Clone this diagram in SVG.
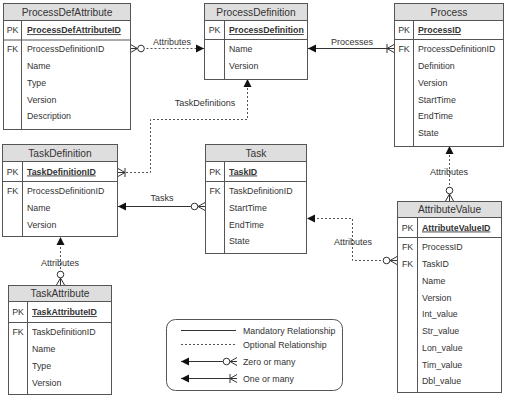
<svg xmlns="http://www.w3.org/2000/svg" width="506" height="408" viewBox="0 0 506 408">
<style>
.box{fill:#fff;stroke:#555;stroke-width:1}
.hdr{fill:#dedede;stroke:#555;stroke-width:1}
.ln{stroke:#555;stroke-width:1;fill:none}
text{font-family:"Liberation Sans",Arial,Helvetica,sans-serif;font-size:8.8px;fill:#333}
.h{font-size:10.2px;text-anchor:middle}
.pk{font-weight:bold;text-decoration:underline}
.k{text-anchor:middle}
.lbl{text-anchor:middle;font-size:9px}
.c{stroke:#333;stroke-width:1;fill:none}
.d{stroke:#555;stroke-width:1;fill:none;stroke-dasharray:2,2}
</style>
<defs>
<marker id="arrow" markerUnits="userSpaceOnUse" markerWidth="12" markerHeight="12" viewBox="-10 -6 12 12" refX="0" refY="0" orient="auto">
<path d="M-8,-4 L0,0 L-8,4 Z" fill="#111"/>
</marker>
<marker id="zm" markerUnits="userSpaceOnUse" markerWidth="20" markerHeight="12" viewBox="-16 -6 20 12" refX="0" refY="0" orient="auto-start-reverse">
<path d="M-7,0 L0,-4 M-7,0 L0,0 M-7,0 L0,4" stroke="#333" stroke-width="1" fill="none"/>
<circle cx="-10.5" cy="0" r="3.3" fill="#fff" stroke="#333" stroke-width="1"/>
</marker>
<marker id="om" markerUnits="userSpaceOnUse" markerWidth="20" markerHeight="12" viewBox="-16 -6 20 12" refX="0" refY="0" orient="auto-start-reverse">
<path d="M-7,0 L0,-4 M-7,0 L0,0 M-7,0 L0,4 M-7,-4.5 L-7,4.5" stroke="#333" stroke-width="1" fill="none"/>
</marker>
</defs>

<g id="connectors">
<path class="d" d="M130.5,48.5 H204" marker-start="url(#zm)" marker-end="url(#arrow)"/>
<text class="lbl" x="172" y="44.5">Attributes</text>
<path class="c" d="M394,48.5 H308" marker-start="url(#om)" marker-end="url(#arrow)"/>
<text class="lbl" x="352" y="44.5">Processes</text>
<path class="d" d="M118,172.5 H150.5 V119.5 H247.5 V79" marker-start="url(#om)" marker-end="url(#arrow)"/>
<text class="lbl" x="205" y="106">TaskDefinitions</text>
<path class="c" d="M205,206.5 H118" marker-start="url(#zm)" marker-end="url(#arrow)"/>
<text class="lbl" x="162" y="200.5">Tasks</text>
<path class="d" d="M449.5,201 V146" marker-start="url(#zm)" marker-end="url(#arrow)"/>
<text class="lbl" x="449" y="175">Attributes</text>
<path class="d" d="M397,260.5 H352.5 V218.5 H307" marker-start="url(#zm)" marker-end="url(#arrow)"/>
<text class="lbl" x="353" y="245">Attributes</text>
<path class="d" d="M60.5,285 V237" marker-start="url(#zm)" marker-end="url(#arrow)"/>
<text class="lbl" x="60" y="266">Attributes</text>
</g>

<g id="ProcessDefAttribute">
<rect class="box" x="3.5" y="3.5" width="127" height="126"/>
<rect class="hdr" x="3.5" y="3.5" width="127" height="17"/>
<path class="ln" d="M3.5,40 H130.5 M21.5,20.5 V129.5"/>
<text class="h" x="67" y="16">ProcessDefAttribute</text>
<text class="k" x="12.5" y="33.2">PK</text>
<text class="pk" x="27" y="33.2">ProcessDefAttributeID</text>
<text class="k" x="12.5" y="52.2">FK</text>
<text x="27" y="52.2">ProcessDefinitionID</text>
<text x="27" y="69">Name</text>
<text x="27" y="85.8">Type</text>
<text x="27" y="102.6">Version</text>
<text x="27" y="119.4">Description</text>
</g>

<g id="ProcessDefinition">
<rect class="box" x="204.5" y="3.5" width="103" height="76"/>
<rect class="hdr" x="204.5" y="3.5" width="103" height="17"/>
<path class="ln" d="M204.5,39.5 H307.5 M224.5,20.5 V79.5"/>
<text class="h" x="256" y="16">ProcessDefinition</text>
<text class="k" x="214.5" y="33">PK</text>
<text class="pk" x="229" y="33">ProcessDefinition</text>
<text x="229" y="52.2">Name</text>
<text x="229" y="69">Version</text>
</g>

<g id="Process">
<rect class="box" x="394.5" y="3.5" width="109" height="143"/>
<rect class="hdr" x="394.5" y="3.5" width="109" height="17"/>
<path class="ln" d="M394.5,39.5 H503.5 M413.5,20.5 V146.5"/>
<text class="h" x="449" y="16">Process</text>
<text class="k" x="404" y="33">PK</text>
<text class="pk" x="418" y="33">ProcessID</text>
<text class="k" x="404" y="52.2">FK</text>
<text x="418" y="52.2">ProcessDefinitionID</text>
<text x="418" y="69">Definition</text>
<text x="418" y="85.8">Version</text>
<text x="418" y="102.6">StartTime</text>
<text x="418" y="119.4">EndTime</text>
<text x="418" y="136.2">State</text>
</g>

<g id="TaskDefinition">
<rect class="box" x="2.5" y="144.5" width="115" height="92"/>
<rect class="hdr" x="2.5" y="144.5" width="115" height="17"/>
<path class="ln" d="M2.5,181.5 H117.5 M22.5,161.5 V236.5"/>
<text class="h" x="60" y="157">TaskDefinition</text>
<text class="k" x="12.5" y="174.5">PK</text>
<text class="pk" x="27" y="174.5">TaskDefinitionID</text>
<text class="k" x="12.5" y="194">FK</text>
<text x="27" y="194">ProcessDefinitionID</text>
<text x="27" y="210.8">Name</text>
<text x="27" y="227.5">Version</text>
</g>

<g id="Task">
<rect class="box" x="205.5" y="144.5" width="101" height="109"/>
<rect class="hdr" x="205.5" y="144.5" width="101" height="17"/>
<path class="ln" d="M205.5,181.5 H306.5 M224.5,161.5 V253.5"/>
<text class="h" x="256" y="157">Task</text>
<text class="k" x="215" y="174.5">PK</text>
<text class="pk" x="229" y="174.5">TaskID</text>
<text class="k" x="215" y="194">FK</text>
<text x="229" y="194">TaskDefinitionID</text>
<text x="229" y="210.8">StartTime</text>
<text x="229" y="227.5">EndTime</text>
<text x="229" y="244.3">State</text>
</g>

<g id="AttributeValue">
<rect class="box" x="397.5" y="201.5" width="104" height="191"/>
<rect class="hdr" x="397.5" y="201.5" width="104" height="16"/>
<path class="ln" d="M397.5,237.5 H501.5 M417.5,217.5 V392.5"/>
<text class="h" x="449.5" y="213">AttributeValue</text>
<text class="k" x="407.5" y="230.5">PK</text>
<text class="pk" x="422" y="230.5">AttributeValueID</text>
<text class="k" x="407.5" y="250.3">FK</text>
<text x="422" y="250.3">ProcessID</text>
<text class="k" x="407.5" y="267">FK</text>
<text x="422" y="267">TaskID</text>
<text x="422" y="283.8">Name</text>
<text x="422" y="300.5">Version</text>
<text x="422" y="317.3">Int_value</text>
<text x="422" y="334">Str_value</text>
<text x="422" y="350.8">Lon_value</text>
<text x="422" y="367.5">Tim_value</text>
<text x="422" y="384.3">Dbl_value</text>
</g>

<g id="TaskAttribute">
<rect class="box" x="8.5" y="285.5" width="103" height="109"/>
<rect class="hdr" x="8.5" y="285.5" width="103" height="16"/>
<path class="ln" d="M8.5,322.5 H111.5 M27.5,301.5 V394.5"/>
<text class="h" x="60" y="297">TaskAttribute</text>
<text class="k" x="18" y="315">PK</text>
<text class="pk" x="32" y="315">TaskAttributeID</text>
<text class="k" x="18" y="335.2">FK</text>
<text x="32" y="335.2">TaskDefinitionID</text>
<text x="32" y="352">Name</text>
<text x="32" y="368.8">Type</text>
<text x="32" y="385.5">Version</text>
</g>

<g id="legend">
<rect x="166.5" y="319.5" width="176" height="71" rx="9" ry="9" fill="#fff" stroke="#555" stroke-width="1"/>
<path class="c" d="M181,330.5 H236" stroke="#666"/>
<path class="d" d="M181,344.5 H236"/>
<path class="c" d="M237,361.5 H181" marker-start="url(#zm)" marker-end="url(#arrow)"/>
<path class="c" d="M237,378.5 H181" marker-start="url(#om)" marker-end="url(#arrow)"/>
<text x="243" y="333.5">Mandatory Relationship</text>
<text x="243" y="347.5">Optional Relationship</text>
<text x="243" y="364.5">Zero or many</text>
<text x="243" y="381.5">One or many</text>
</g>
</svg>
